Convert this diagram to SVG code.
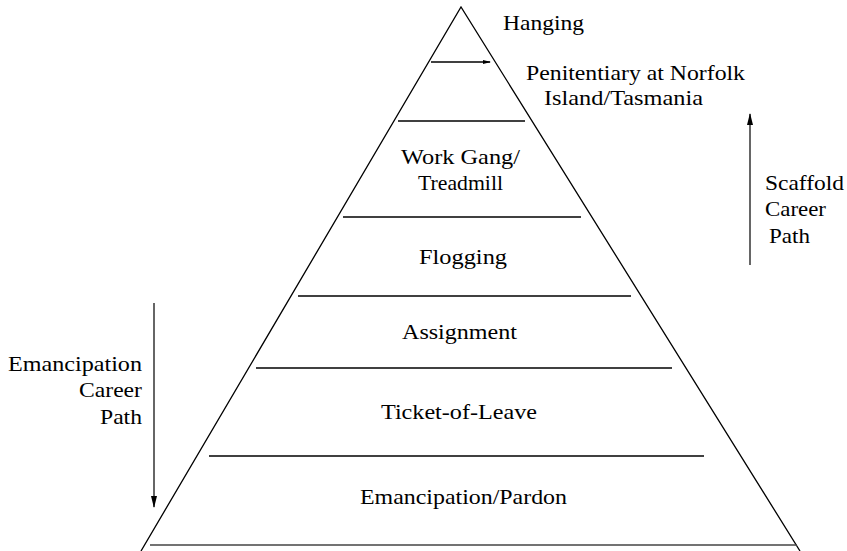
<svg xmlns="http://www.w3.org/2000/svg" width="847" height="551" viewBox="0 0 847 551">
<style>
text{font-family:'Liberation Serif','DejaVu Serif','Noto Serif',serif;font-size:21px;fill:#000}
.ln{stroke:#000;stroke-width:1.3;fill:none}
.ar{stroke:#333;stroke-width:1.5;fill:none}
</style>
<defs>
<marker id="ah" viewBox="0 0 12 6" refX="11" refY="3" markerWidth="12" markerHeight="6" markerUnits="userSpaceOnUse" orient="auto">
<path d="M0,0 L12,3 L0,6 z" fill="#000"/>
</marker>
<marker id="ahs" viewBox="0 0 8 4" refX="7" refY="2" markerWidth="8" markerHeight="4" markerUnits="userSpaceOnUse" orient="auto">
<path d="M0,0 L8,2 L0,4 z" fill="#000"/>
</marker>
</defs>
<g id="pyramid">
<path class="ln" d="M141,551 L461,7 L800,551"/>
</g>
<g id="connectors">
<line class="ln" x1="431" y1="62" x2="490" y2="62" marker-end="url(#ahs)"/>
<line class="ln" x1="398" y1="121" x2="525" y2="121"/>
<line class="ln" x1="343" y1="217" x2="581" y2="217"/>
<line class="ln" x1="298" y1="296" x2="631" y2="296"/>
<line class="ln" x1="256" y1="368" x2="672" y2="368"/>
<line class="ln" x1="209" y1="456" x2="704" y2="456"/>
<line class="ln" x1="150" y1="545" x2="797" y2="545" style="stroke:#444;stroke-width:1.6"/>
<line class="ar" x1="750" y1="265" x2="750" y2="114" marker-end="url(#ah)"/>
<line class="ar" x1="154" y1="303" x2="154" y2="507" marker-end="url(#ah)"/>
</g>
<g id="hanging"><text x="503" y="30" textLength="81" lengthAdjust="spacingAndGlyphs">Hanging</text></g>
<g id="penitentiary"><text x="526" y="80" textLength="219" lengthAdjust="spacingAndGlyphs">Penitentiary at Norfolk</text><text x="544" y="105" textLength="159" lengthAdjust="spacingAndGlyphs">Island/Tasmania</text></g>
<g id="workgang"><text x="401" y="164" textLength="119" lengthAdjust="spacingAndGlyphs">Work Gang/</text><text x="418" y="190" textLength="85" lengthAdjust="spacingAndGlyphs">Treadmill</text></g>
<g id="flogging"><text x="419" y="264" textLength="88" lengthAdjust="spacingAndGlyphs">Flogging</text></g>
<g id="assignment"><text x="402" y="339" textLength="115" lengthAdjust="spacingAndGlyphs">Assignment</text></g>
<g id="ticket"><text x="381" y="419" textLength="156" lengthAdjust="spacingAndGlyphs">Ticket-of-Leave</text></g>
<g id="emancipation"><text x="360" y="504" textLength="207" lengthAdjust="spacingAndGlyphs">Emancipation/Pardon</text></g>
<g id="scaffold"><text x="765" y="190" textLength="79" lengthAdjust="spacingAndGlyphs">Scaffold</text><text x="765" y="216" textLength="61" lengthAdjust="spacingAndGlyphs">Career</text><text x="769" y="243" textLength="41" lengthAdjust="spacingAndGlyphs">Path</text></g>
<g id="emancipationpath"><text x="8" y="371" textLength="134" lengthAdjust="spacingAndGlyphs">Emancipation</text><text x="79" y="397" textLength="63" lengthAdjust="spacingAndGlyphs">Career</text><text x="100" y="424" textLength="42" lengthAdjust="spacingAndGlyphs">Path</text></g>
</svg>
